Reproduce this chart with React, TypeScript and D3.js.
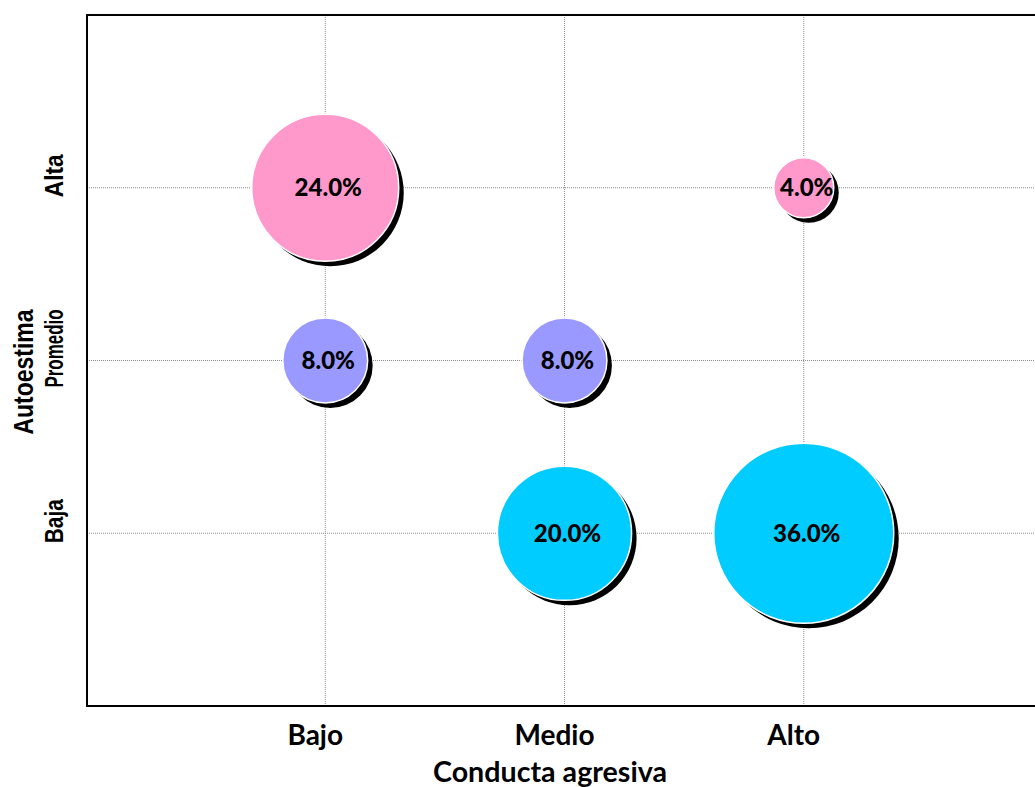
import React from "react";
import * as d3 from "d3";

const xCategories = ["Bajo", "Medio", "Alto"];
const yCategories = ["Baja", "Promedio", "Alta"];
const xTitle = "Conducta agresiva";
const yTitle = "Autoestima";

// Series by Autoestima level: x category index (1-based), value (%)
const altaX = [1, 3];
const altaValues = [24, 4];
const promedioX = [1, 2];
const promedioValues = [8, 8];
const bajaX = [2, 3];
const bajaValues = [20, 36];

const seriesColors = ["#00CCFF", "#9999FF", "#FF99CC"]; // Baja, Promedio, Alta

const W = 1035;
const H = 787;

export default function App() {
  const x = d3.scaleLinear().domain([0, 4]).range([86, 1043]);
  const y = d3.scaleLinear().domain([0, 4]).range([706, 15]);
  const r = d3.scaleSqrt().domain([0, 36]).range([0, 90]);

  const series = [
    { level: 1, xs: bajaX, vals: bajaValues, color: seriesColors[0] },
    { level: 2, xs: promedioX, vals: promedioValues, color: seriesColors[1] },
    { level: 3, xs: altaX, vals: altaValues, color: seriesColors[2] },
  ];
  const points = series.flatMap((s) =>
    s.xs.map((xi, i) => ({ x: xi, y: s.level, v: s.vals[i], color: s.color }))
  );
  points.sort((a, b) => b.v - a.v);

  const fmt = (v: number) => d3.format(".1f")(v) + "%";
  const yLabelLen: Record<string, number> = { Alta: 43, Promedio: 78, Baja: 44 };

  const left = x(0) + 1;
  const top = y(4);
  const bottom = y(0);

  return (
    <svg
      width={W}
      height={H}
      style={{ position: "absolute", left: 0, top: 0, background: "#fff" }}
    >
      {/* gridlines */}
      {xCategories.map((c, i) => (
        <line
          key={"gx" + c}
          x1={x(i + 1)}
          x2={x(i + 1)}
          y1={top}
          y2={bottom}
          stroke="#8c8c8c"
          strokeWidth={1}
          strokeDasharray="1,1"
        />
      ))}
      {yCategories.map((c, i) => (
        <line
          key={"gy" + c}
          x1={left}
          x2={W}
          y1={y(i + 1)}
          y2={y(i + 1)}
          stroke="#8c8c8c"
          strokeWidth={1}
          strokeDasharray="1,1"
        />
      ))}

      {/* bubbles */}
      {points.map((p, i) => (
        <g key={"b" + i}>
          <circle cx={x(p.x) + 5} cy={y(p.y) + 5} r={r(p.v)} fill="#000" />
          <circle
            cx={x(p.x)}
            cy={y(p.y)}
            r={r(p.v)}
            fill={p.color}
            stroke="#fff"
            strokeWidth={1.5}
          />
        </g>
      ))}
      {points.map((p, i) => (
        <text
          key={"l" + i}
          x={x(p.x) + 3}
          y={y(p.y)}
          dy="0.36em"
          textAnchor="middle"
          fontFamily="Lato, 'Open Sans', sans-serif"
          fontWeight={900}
          fontSize={24}
          fill="#000"
        >
          {fmt(p.v)}
        </text>
      ))}

      {/* frame */}
      <line x1={left} x2={left} y1={top} y2={bottom + 1} stroke="#000" strokeWidth={2} />
      <line x1={left - 1} x2={W} y1={top} y2={top} stroke="#000" strokeWidth={2} />
      <line x1={left - 1} x2={W} y1={bottom} y2={bottom} stroke="#000" strokeWidth={2} />

      {/* x tick labels */}
      {xCategories.map((c, i) => (
        <text
          key={"xt" + c}
          x={x(i + 1) - 10}
          y={745}
          textAnchor="middle"
          fontFamily="Lato, 'Open Sans', sans-serif"
          fontWeight={700}
          fontSize={28}
          fill="#000"
        >
          {c}
        </text>
      ))}
      <text
        x={550}
        y={782}
        textAnchor="middle"
        fontFamily="Lato, 'Open Sans', sans-serif"
        fontWeight={700}
        fontSize={28}
        textLength={234}
        lengthAdjust="spacingAndGlyphs"
        fill="#000"
      >
        {xTitle}
      </text>

      {/* y tick labels */}
      {yCategories.map((c, i) => (
        <text
          key={"yt" + c}
          transform={`translate(63,${y(i + 1) - 12}) rotate(-90)`}
          textAnchor="middle"
          fontFamily="'Liberation Sans', Arial, sans-serif"
          fontWeight={700}
          fontSize={26}
          textLength={yLabelLen[c]}
          lengthAdjust="spacingAndGlyphs"
          fill="#000"
        >
          {c}
        </text>
      ))}
      <text
        transform={`translate(33,372) rotate(-90)`}
        textAnchor="middle"
        fontFamily="'Liberation Sans', Arial, sans-serif"
        fontWeight={700}
        fontSize={27}
        textLength={125}
        lengthAdjust="spacingAndGlyphs"
        fill="#000"
      >
        {yTitle}
      </text>
    </svg>
  );
}
